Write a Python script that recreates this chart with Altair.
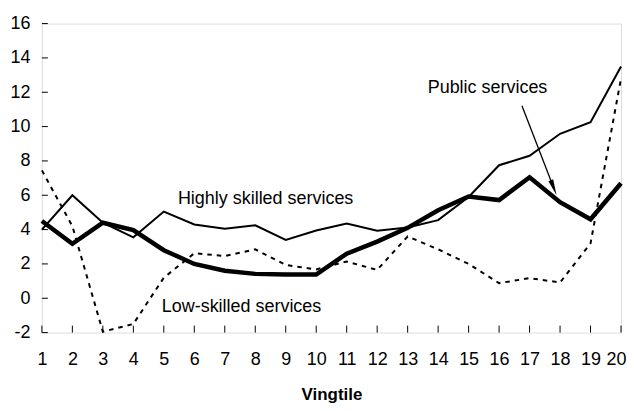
import altair as alt
import pandas as pd

vingtile = list(range(1, 21))
highly_skilled = [4.0, 6.0, 4.4, 3.55, 5.05, 4.3, 4.05, 4.25, 3.4, 3.95,
                  4.35, 3.93, 4.12, 4.55, 5.9, 7.75, 8.3, 9.58, 10.26, 13.5]
public = [4.5, 3.17, 4.4, 3.97, 2.8, 2.0, 1.6, 1.42, 1.38, 1.38,
          2.6, 3.3, 4.1, 5.13, 5.93, 5.72, 7.05, 5.6, 4.6, 6.7]
low_skilled = [7.45, 4.2, -1.95, -1.5, 1.2, 2.62, 2.46, 2.85, 1.94, 1.68,
               2.14, 1.65, 3.6, 2.85, 2.0, 0.88, 1.17, 0.92, 3.2, 12.8]

y_ticks = list(range(-2, 17, 2))

label_text = ["Highly skilled services", "Low-skilled services", "Public services"]
label_x = [8.34, 7.55, 15.62]
label_y = [5.77, -0.49, 12.27]

arrow_x = [16.75, 17.79]
arrow_y = [11.22, 6.44]

FONT = "Liberation Sans"

rows = []
for name, vals in [("Highly skilled services", highly_skilled),
                   ("Public services", public),
                   ("Low-skilled services", low_skilled)]:
    for v, val in zip(vingtile, vals):
        rows.append({"series": name, "vingtile": v, "value": val})
df = pd.DataFrame(rows)

xs = alt.Scale(domain=[1, 20], nice=False, zero=False)
ys = alt.Scale(domain=[-2, 16], nice=False, zero=False)

x_axis = alt.Axis(values=vingtile, labelExpr="toString(datum.value)", domain=False,
                  ticks=False, grid=False, labelFontSize=18, labelFont=FONT,
                  labelColor="black", labelPadding=18, labelOverlap=False,
                  titleFont=FONT, titleFontSize=17, titleFontWeight="bold",
                  titleColor="black", titlePadding=18, labelFlush=True,
                  labelFlushOffset=5)
y_axis = alt.Axis(values=y_ticks, labelExpr="toString(datum.value)", domain=False,
                  ticks=False, grid=False, labelFontSize=18, labelFont=FONT,
                  labelColor="black", labelPadding=12, labelFlush=False,
                  labelOverlap=False)

X = alt.X("vingtile:Q", scale=xs, title="Vingtile", axis=x_axis)
Y = alt.Y("value:Q", scale=ys, title=None, axis=y_axis)
XA = alt.X("x:Q", scale=xs, title="Vingtile", axis=x_axis)
YA = alt.Y("y:Q", scale=ys, title=None, axis=y_axis)

base = alt.Chart(df)

hs = base.transform_filter(alt.datum.series == "Highly skilled services").mark_line(
    color="black", strokeWidth=2).encode(x=X, y=Y)
ps = base.transform_filter(alt.datum.series == "Public services").mark_line(
    color="black", strokeWidth=4.5).encode(x=X, y=Y)
ls = base.transform_filter(alt.datum.series == "Low-skilled services").mark_line(
    color="black", strokeWidth=2, strokeDash=[4.5, 5]).encode(x=X, y=Y)

xt = alt.Chart(pd.DataFrame({"vingtile": vingtile})).mark_rule(
    color="black", strokeWidth=1).encode(
    x=X, y=alt.value(310), y2=alt.value(303))
yt = alt.Chart(pd.DataFrame({"value": y_ticks})).mark_rule(
    color="black", strokeWidth=1).encode(
    y=Y, x=alt.value(0), x2=alt.value(6))

labels = alt.Chart(pd.DataFrame({"t": label_text, "x": label_x, "y": label_y})).mark_text(
    font=FONT, fontSize=18, color="black").encode(
    x=XA, y=YA, text="t:N")

arrow_line = alt.Chart(pd.DataFrame({"x": arrow_x, "y": arrow_y, "o": [0, 1]})).mark_line(
    color="black", strokeWidth=1.3).encode(x=XA, y=YA, order="o:Q")
arrow_head = alt.Chart(pd.DataFrame({"x": [arrow_x[1]], "y": [arrow_y[1]]})).mark_point(
    shape="M0,-1L0.32,1L-0.32,1Z", filled=True, color="black", opacity=1,
    size=256, angle=159).encode(x=XA, y=YA)

chart = alt.layer(hs, ps, ls, xt, yt, labels, arrow_line, arrow_head).properties(
    width=581, height=310,
    autosize=alt.AutoSizeParams(type="none"),
    padding={"left": 34, "top": 15, "right": 5, "bottom": 70},
).configure_view(stroke="black", strokeWidth=1.2).configure(background="white")

chart.save("out.html", embed_options={"renderer": "svg", "actions": False})
